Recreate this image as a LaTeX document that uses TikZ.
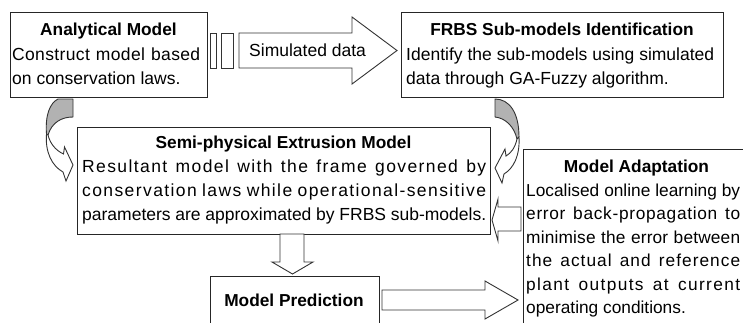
\documentclass[tikz,border=0pt]{standalone}
\usepackage{fontspec}
\setmainfont{Liberation Sans}
\newcommand{\bodysize}{\fontsize{17.5}{23.5}\selectfont}
\newcommand{\adaptsize}{\fontsize{17.3}{23.5}\selectfont}
\newcommand{\titlesize}{\fontsize{17.3}{23}\selectfont\bfseries}
% a justified line: width, extra letter spacing, text
\newcommand{\spread}[3]{{\addfontfeature{LetterSpace=#2}\makebox[#1][s]{#3}}}

\begin{document}
\begin{tikzpicture}[x=1pt,y=-1pt,
  box/.style={draw=black!85, line width=1.1pt, fill=white, inner sep=0pt, anchor=north west},
  blockarrow/.style={draw=black!80, line width=0.9pt, fill=white, line join=miter},
  backface/.style={draw=black!80, line width=0.9pt, fill=black!30, line join=round},
  frontface/.style={draw=black!80, line width=0.9pt, fill=white, line join=miter},
  txt/.style={anchor=base west, inner sep=0pt, font=\bodysize},
  adapttxt/.style={anchor=base west, inner sep=0pt, font=\adaptsize},
  ttl/.style={anchor=base, inner sep=0pt, font=\titlesize}]
\useasboundingbox (0,0) rectangle (743,322);
\clip (0,0) rectangle (743,322);
\fill[white] (0,0) rectangle (743,322);

% ---------- boxes ----------
\node[box, minimum width=197, minimum height=85]  (analytical) at (10,12)  {};
\node[box, minimum width=322, minimum height=85]  (frbs)       at (401,12) {};
\node[box, minimum width=413, minimum height=107] (semi)       at (77,127) {};
\node[box, minimum width=227, minimum height=200] (adapt)      at (523,149) {};
\node[box, minimum width=169, minimum height=80]  (predict)    at (209.5,276) {};

% ---------- box texts ----------
\node[ttl] (analyticalT) at (108.5,35) {Analytical Model};
\node[txt] (analytical1) at (12,60) {\spread{188pt}{2}{Construct model based}};
\node[txt] (analytical2) at (12,84) {on conservation laws.};

\node[ttl] (frbsT) at (562,35) {FRBS Sub-models Identification};
\node[txt] (frbs1) at (406,60) {\spread{308pt}{0}{Identify the sub-models using simulated}};
\node[txt] (frbs2) at (406,84) {data through GA-Fuzzy algorithm.};

\node[ttl] (semiT) at (283.5,148) {Semi-physical Extrusion Model};
\node[txt] (semi1) at (82,172) {\spread{404pt}{8}{Resultant model with the frame governed by}};
\node[txt] (semi2) at (82,196) {\spread{404pt}{8}{conservation laws while operational-sensitive}};
\node[txt] (semi3) at (82,220) {\spread{404pt}{0}{parameters are approximated by FRBS sub-models.}};

\node[ttl] (adaptT) at (636.5,172) {Model Adaptation};
\node[adapttxt] (adapt1) at (526,196)   {\spread{214pt}{0}{Localised online learning by}};
\node[adapttxt] (adapt2) at (526,219.5) {\spread{214pt}{4}{error back-propagation to}};
\node[adapttxt] (adapt3) at (526,243)   {\spread{214pt}{1}{minimise the error between}};
\node[adapttxt] (adapt4) at (526,266.5) {\spread{214pt}{6}{the actual and reference}};
\node[adapttxt] (adapt5) at (526,290)   {\spread{214pt}{8}{plant outputs at current}};
\node[adapttxt] (adapt6) at (526,313.5) {operating conditions.};

\node[ttl] (predictT) at (294,306) {Model Prediction};

% ---------- striped block arrow: simulated data ----------
\draw[blockarrow] (210,33) rectangle (216,68);
\draw[blockarrow] (221,33) rectangle (233,68);
\draw[blockarrow] (239,33) -- (352,33) -- (352,17) -- (397,50.5) -- (352,84) -- (352,68) -- (239,68) -- cycle;
\node[txt] (simdata) at (249,56) {Simulated data};

% ---------- block arrow: semi-physical model to prediction ----------
\draw[blockarrow] (280,234) -- (280,262) -- (272,262) -- (292.5,274) -- (313,262) -- (304,262) -- (304,234) -- cycle;

% ---------- block arrow: prediction to adaptation ----------
\draw[blockarrow] (382,290) -- (485,290) -- (485,281) -- (518,300) -- (485,319) -- (485,310) -- (382,310) -- cycle;

% ---------- block arrow: adaptation back to semi-physical model ----------
\draw[blockarrow] (521,207) -- (498,207) -- (498,199) -- (492,220) -- (498,241) -- (498,231) -- (521,231) -- cycle;

% ---------- curved arrow: analytical model to semi-physical model ----------
\draw[backface] (58,99) -- (73,99) -- (73,117)
  .. controls (62,117) and (52,122) .. (48,135)
  -- (46.5,134) .. controls (45,115) and (50,103) .. (58,99) -- cycle;
\draw[frontface] (46.5,134) .. controls (45,152) and (52,166) .. (63,172)
  -- (66,181) -- (73,165) -- (64.5,147) -- (63.5,154)
  .. controls (55,150) and (50,143) .. (48,135) -- cycle;

% ---------- curved arrow: FRBS identification to semi-physical model ----------
\draw[backface] (495,99) -- (495,117)
  .. controls (505,118) and (514,126) .. (517,139)
  -- (519,137) .. controls (519,112) and (509,99) .. (495,99) -- cycle;
\draw[frontface] (519,137) .. controls (520,155) and (514,168) .. (504,174)
  -- (502,183) -- (495,168) -- (505,149) -- (506,156)
  .. controls (511,153) and (515,148) .. (517,139) -- cycle;
\end{tikzpicture}
\end{document}
